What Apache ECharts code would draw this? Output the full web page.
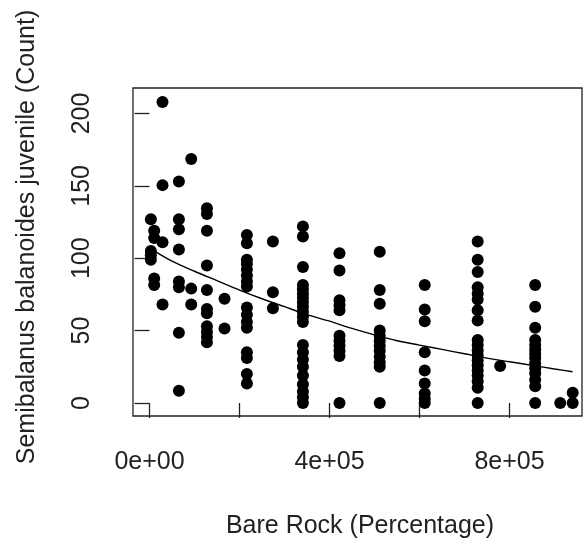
<!DOCTYPE html>
<html>
<head>
<meta charset="utf-8">
<title>Semibalanus balanoides juvenile vs Bare Rock</title>
<script src="https://cdn.jsdelivr.net/npm/echarts@6/dist/echarts.min.js"></script>
<style>
  html, body { margin: 0; padding: 0; background: #ffffff; }
  #chart { width: 587px; height: 542px; }
</style>
</head>
<body>
<div id="chart"></div>
<script>
// Bare rock value for each sampled group of quadrats
var rockCover = [3000, 10400, 28900, 65300, 92700, 127600, 166700, 216400, 274200,
                 340900, 422200, 511600, 611600, 729300, 779300, 857100, 912700, 940400];

// Juvenile counts observed at each bare rock value (same order as rockCover)
var juvenileCounts = [
  [127, 105, 102, 99],
  [119, 114, 86, 81.5],
  [208, 150.5, 111, 68],
  [153, 127, 120, 106, 84, 80, 48.5, 8.5],
  [168.5, 79, 68],
  [134.5, 130.5, 119, 95, 78, 65, 62, 53, 49, 45.5, 42],
  [72, 51.5],
  [116, 110.3, 99, 96, 92, 88, 84, 80.5, 66, 61, 56, 52, 35, 31, 20, 13.5],
  [111.5, 76.5, 65.5],
  [122, 115, 94, 81.5, 78.5, 75.5, 72.5, 69.5, 66.5, 63, 59.5, 56, 40, 35, 30, 25, 19, 13, 8, 4, 0],
  [103.5, 91.5, 71, 67.5, 64, 46.5, 43, 39.5, 36, 32.5, 0],
  [104.5, 78, 68.5, 50, 46.5, 43, 39.5, 36, 32, 28, 25, 0],
  [81.5, 64.5, 56.5, 35, 22.5, 13.5, 6.5, 3, 0],
  [111.5, 99, 90.5, 80, 75.5, 71.5, 64, 57, 43.5, 40, 36.5, 33, 29.5, 26, 22.5, 19, 15, 10.5, 0],
  [25.5],
  [81.5, 66.5, 52, 43.5, 40, 37, 34, 31, 27.5, 24, 20.5, 16, 11.5, 0],
  [0],
  [7, 0]
];

// Fitted trend line
var fitRock  = [3000, 50000, 100000, 150000, 200000, 250000, 300000, 350000, 400000, 450000,
                500000, 550000, 600000, 650000, 700000, 750000, 800000, 850000, 900000, 940000];
var fitCount = [106.5, 98, 91, 84.5, 78, 72, 66.5, 61, 56.5, 51.5,
                47, 43, 40, 37, 34, 31, 28.5, 26, 23.5, 21.6];

// Axis ticks and labels
var xTicks  = [0, 200000, 400000, 600000, 800000];
var xLabels = [0, 400000, 800000];
var yTicks  = [0, 50, 100, 150, 200];

var points = [];
rockCover.forEach(function (x, i) {
  juvenileCounts[i].forEach(function (y) { points.push([x, y]); });
});
var fitLine = fitRock.map(function (x, i) { return [x, fitCount[i]]; });

function sciLabel(v) {
  if (v === 0) return '0e+00';
  var exp = Math.floor(Math.log10(Math.abs(v)));
  var mant = Math.round(v / Math.pow(10, exp));
  return mant + 'e+' + (exp < 10 ? '0' : '') + exp;
}

var FONT = '"Liberation Sans", Arial, Helvetica, sans-serif';
var INK = '#222222';

var chart = echarts.init(document.getElementById('chart'), null, { renderer: 'canvas' });
chart.setOption({
  animation: false,
  backgroundColor: '#ffffff',
  grid: {
    left: 133, top: 88, width: 449, height: 328,
    show: true, borderColor: INK, borderWidth: 1.3, backgroundColor: 'transparent'
  },
  xAxis: {
    type: 'value',
    min: -36700, max: 961100,
    axisLine: { show: false },
    splitLine: { show: false },
    axisTick: { show: true, inside: false, length: 15, customValues: xTicks,
                lineStyle: { color: INK, width: 1.3 } },
    axisLabel: { show: true, customValues: xLabels, margin: 34, formatter: sciLabel,
                 fontFamily: FONT, fontSize: 25, color: INK }
  },
  yAxis: {
    type: 'value',
    min: -9, max: 217.6,
    axisLine: { show: false },
    splitLine: { show: false },
    axisTick: { show: true, inside: false, length: 15, customValues: yTicks,
                lineStyle: { color: INK, width: 1.3 } },
    axisLabel: { show: true, customValues: yTicks, rotate: 90, margin: 38,
                 fontFamily: FONT, fontSize: 25, color: INK }
  },
  graphic: [
    { type: 'text', x: 360, y: 526,
      style: { text: 'Bare Rock (Percentage)', font: '25px ' + FONT, fill: INK,
               textAlign: 'center', textVerticalAlign: 'middle' } },
    { type: 'text', x: 27, y: 237, rotation: Math.PI / 2,
      style: { text: 'Semibalanus balanoides juvenile (Count)', font: '25px ' + FONT, fill: INK,
               textAlign: 'center', textVerticalAlign: 'middle' } }
  ],
  series: [
    {
      type: 'scatter',
      data: points,
      symbol: 'circle',
      symbolSize: 12,
      itemStyle: { color: '#000000', opacity: 1 },
      z: 3
    },
    {
      type: 'line',
      data: fitLine,
      smooth: 0.3,
      showSymbol: false,
      lineStyle: { color: '#000000', width: 1.4 },
      z: 4
    }
  ]
});
</script>
</body>
</html>
